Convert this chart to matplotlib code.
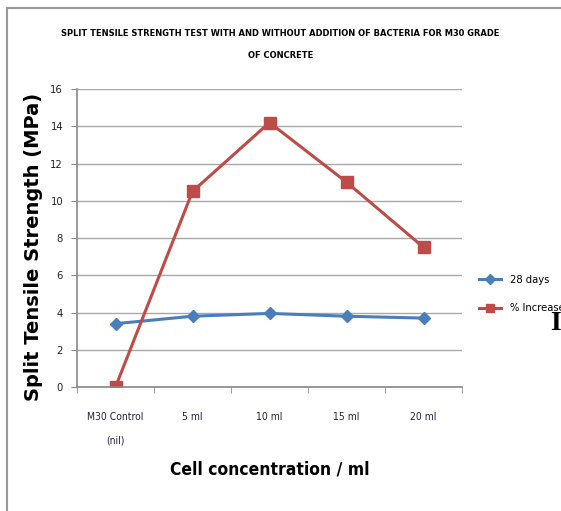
import matplotlib
matplotlib.use("Agg")
import matplotlib.pyplot as plt
from matplotlib.lines import Line2D
from matplotlib import font_manager

categories = ["M30 Control\n(nil)", "5 ml", "10 ml", "15 ml", "20 ml"]
days28 = [3.4, 3.8, 3.95, 3.8, 3.7]
pct_increase = [0.0, 10.5, 14.2, 11.0, 7.5]
yticks = [0, 2, 4, 6, 8, 10, 12, 14, 16]

names = {f.name for f in font_manager.fontManager.ttflist}
narrow = "Liberation Sans Narrow" if "Liberation Sans Narrow" in names else "DejaVu Sans"
stretch = "normal" if narrow == "Liberation Sans Narrow" else "condensed"

fig = plt.figure(figsize=(5.61, 5.11), dpi=100)
ax = fig.add_axes([77/561, 1-387/511, 385/561, (387-89)/511])

x = list(range(len(categories)))
ax.plot(x, days28, color="#4a7ebb", lw=2.2, marker="D", ms=6, label="28 days")
ax.plot(x, pct_increase, color="#be4b48", lw=2.2, marker="s", ms=8, label="% Increase")

ax.set_xlim(-0.5, len(categories) - 0.5)
ax.set_ylim(0, 16)
ax.set_yticks(yticks)
ax.set_yticklabels([str(v) for v in yticks], fontsize=8, family=narrow, stretch=stretch, color="#202020")
ax.set_xticks(x)
ax.set_xticklabels(categories, fontsize=7.5, family=narrow, stretch=stretch, color="#202040", linespacing=2.7)
ax.tick_params(axis="x", which="major", length=0, pad=18)
ax.set_xticks([i + 0.5 for i in range(-1, len(categories))], minor=True)
ax.tick_params(axis="x", which="minor", length=4, color="#888888")
ax.tick_params(axis="y", length=4, color="#888888", pad=6)
ax.grid(axis="y", color="#a8a8a8", lw=1.0)
ax.set_axisbelow(True)
for s in ["top", "right"]:
    ax.spines[s].set_visible(False)
for s in ["left", "bottom"]:
    ax.spines[s].set_color("#888888")
    ax.spines[s].set_linewidth(1.2)

fig.text(0.5, 1-33/511, "SPLIT TENSILE STRENGTH TEST WITH AND WITHOUT ADDITION OF BACTERIA FOR M30 GRADE",
         ha="center", va="center", fontsize=6.7, family=narrow, stretch=stretch, weight="bold")
fig.text(0.5, 1-55/511, "OF CONCRETE", ha="center", va="center", fontsize=6.7, family=narrow,
         stretch=stretch, weight="bold")
fig.text(270/561, 1-470/511, "Cell concentration / ml", ha="center", va="center",
         fontsize=12.5, family=narrow, stretch=stretch, weight="bold")
fig.text(34/561, 1-247/511, "Split Tensile Strength (MPa)", ha="center", va="center",
         rotation=90, fontsize=14, weight="bold", family="DejaVu Sans")

fig.legend(loc="center left", bbox_to_anchor=(469/561, 1-294/511), frameon=False,
           prop={"family": narrow, "stretch": stretch, "size": 8}, handlelength=2.0, handletextpad=0.8,
           labelspacing=1.7, markerscale=0.8)

fig.text(550/561, 1-324/511, "I", ha="left", va="center", fontsize=20, family="Liberation Serif", weight="bold")

fig.add_artist(Line2D([7/561, 7/561], [0, 1-8/511], color="#999999", lw=1.5))
fig.add_artist(Line2D([7/561, 1], [1-8/511, 1-8/511], color="#999999", lw=1.5))

fig.savefig("out.png", dpi=100)
